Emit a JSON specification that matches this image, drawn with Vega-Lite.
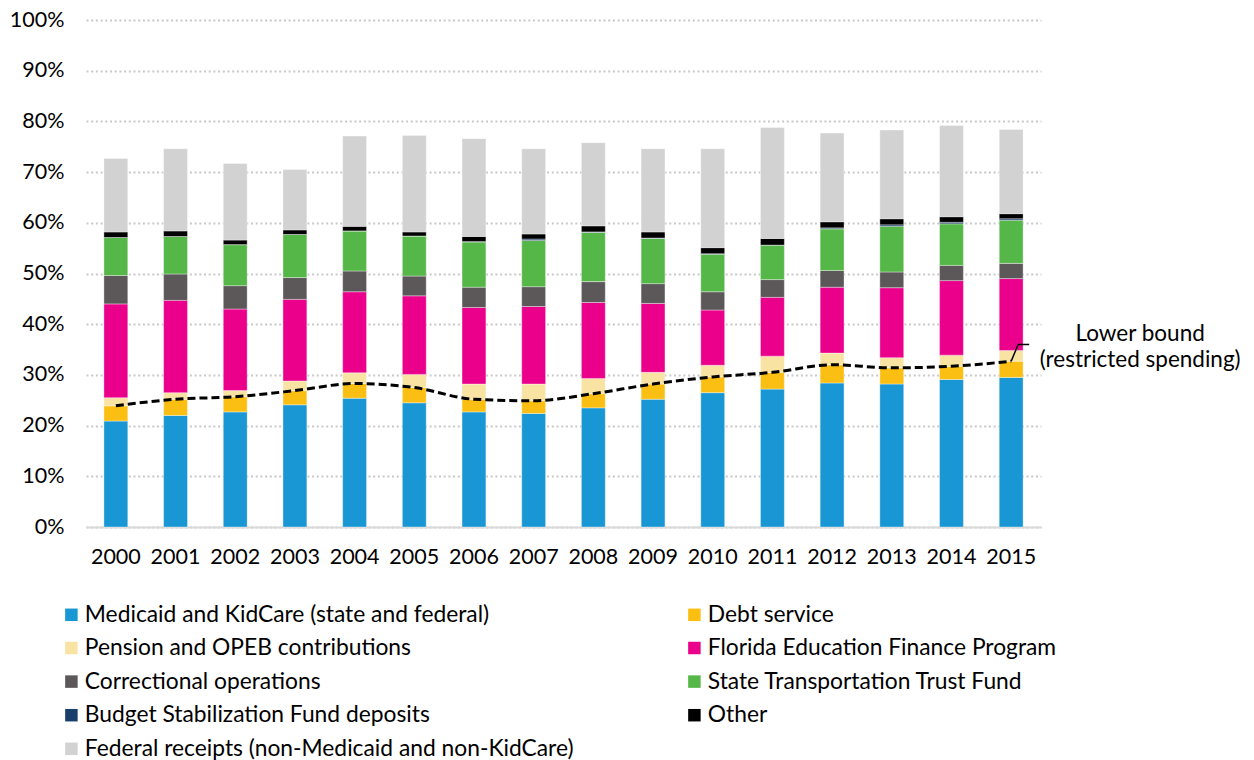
{
  "$schema": "https://vega.github.io/schema/vega-lite/v6.json",
  "autosize": "none",
  "width": 955,
  "height": 507,
  "padding": {"left": 86, "top": 20, "right": 213, "bottom": 233},
  "background": "#ffffff",
  "config": {
    "font": "Lato",
    "view": {"stroke": null},
    "axis": {"labelFont": "Lato", "labelFontSize": 21.5, "labelColor": "#000000", "ticks": false, "title": null},
    "legend": {"labelFont": "Lato", "labelFontSize": 22.8, "labelColor": "#000000"}
  },
  "datasets": {
    "spend": [
      {"year": "2000", "cat": "Medicaid and KidCare (state and federal)", "k": 1, "v": 20.9},
      {"year": "2000", "cat": "Debt service", "k": 2, "v": 3.0},
      {"year": "2000", "cat": "Pension and OPEB contributions", "k": 3, "v": 1.6},
      {"year": "2000", "cat": "Florida Education Finance Program", "k": 4, "v": 18.5},
      {"year": "2000", "cat": "Correctional operations", "k": 5, "v": 5.6},
      {"year": "2000", "cat": "State Transportation Trust Fund", "k": 6, "v": 7.5},
      {"year": "2000", "cat": "Budget Stabilization Fund deposits", "k": 7, "v": 0},
      {"year": "2000", "cat": "Other", "k": 8, "v": 1.1},
      {"year": "2000", "cat": "Federal receipts (non-Medicaid and non-KidCare)", "k": 9, "v": 14.5},
      {"year": "2001", "cat": "Medicaid and KidCare (state and federal)", "k": 1, "v": 22.0},
      {"year": "2001", "cat": "Debt service", "k": 2, "v": 3.2},
      {"year": "2001", "cat": "Pension and OPEB contributions", "k": 3, "v": 1.3},
      {"year": "2001", "cat": "Florida Education Finance Program", "k": 4, "v": 18.2},
      {"year": "2001", "cat": "Correctional operations", "k": 5, "v": 5.2},
      {"year": "2001", "cat": "State Transportation Trust Fund", "k": 6, "v": 7.4},
      {"year": "2001", "cat": "Budget Stabilization Fund deposits", "k": 7, "v": 0},
      {"year": "2001", "cat": "Other", "k": 8, "v": 1.1},
      {"year": "2001", "cat": "Federal receipts (non-Medicaid and non-KidCare)", "k": 9, "v": 16.2},
      {"year": "2002", "cat": "Medicaid and KidCare (state and federal)", "k": 1, "v": 22.7},
      {"year": "2002", "cat": "Debt service", "k": 2, "v": 3.0},
      {"year": "2002", "cat": "Pension and OPEB contributions", "k": 3, "v": 1.2},
      {"year": "2002", "cat": "Florida Education Finance Program", "k": 4, "v": 16.1},
      {"year": "2002", "cat": "Correctional operations", "k": 5, "v": 4.6},
      {"year": "2002", "cat": "State Transportation Trust Fund", "k": 6, "v": 8.1},
      {"year": "2002", "cat": "Budget Stabilization Fund deposits", "k": 7, "v": 0},
      {"year": "2002", "cat": "Other", "k": 8, "v": 0.9},
      {"year": "2002", "cat": "Federal receipts (non-Medicaid and non-KidCare)", "k": 9, "v": 15.1},
      {"year": "2003", "cat": "Medicaid and KidCare (state and federal)", "k": 1, "v": 24.1},
      {"year": "2003", "cat": "Debt service", "k": 2, "v": 2.8},
      {"year": "2003", "cat": "Pension and OPEB contributions", "k": 3, "v": 1.9},
      {"year": "2003", "cat": "Florida Education Finance Program", "k": 4, "v": 16.1},
      {"year": "2003", "cat": "Correctional operations", "k": 5, "v": 4.3},
      {"year": "2003", "cat": "State Transportation Trust Fund", "k": 6, "v": 8.5},
      {"year": "2003", "cat": "Budget Stabilization Fund deposits", "k": 7, "v": 0},
      {"year": "2003", "cat": "Other", "k": 8, "v": 0.9},
      {"year": "2003", "cat": "Federal receipts (non-Medicaid and non-KidCare)", "k": 9, "v": 11.9},
      {"year": "2004", "cat": "Medicaid and KidCare (state and federal)", "k": 1, "v": 25.4},
      {"year": "2004", "cat": "Debt service", "k": 2, "v": 2.9},
      {"year": "2004", "cat": "Pension and OPEB contributions", "k": 3, "v": 2.1},
      {"year": "2004", "cat": "Florida Education Finance Program", "k": 4, "v": 16.0},
      {"year": "2004", "cat": "Correctional operations", "k": 5, "v": 4.1},
      {"year": "2004", "cat": "State Transportation Trust Fund", "k": 6, "v": 7.9},
      {"year": "2004", "cat": "Budget Stabilization Fund deposits", "k": 7, "v": 0},
      {"year": "2004", "cat": "Other", "k": 8, "v": 0.9},
      {"year": "2004", "cat": "Federal receipts (non-Medicaid and non-KidCare)", "k": 9, "v": 17.8},
      {"year": "2005", "cat": "Medicaid and KidCare (state and federal)", "k": 1, "v": 24.5},
      {"year": "2005", "cat": "Debt service", "k": 2, "v": 3.0},
      {"year": "2005", "cat": "Pension and OPEB contributions", "k": 3, "v": 2.6},
      {"year": "2005", "cat": "Florida Education Finance Program", "k": 4, "v": 15.5},
      {"year": "2005", "cat": "Correctional operations", "k": 5, "v": 3.9},
      {"year": "2005", "cat": "State Transportation Trust Fund", "k": 6, "v": 7.9},
      {"year": "2005", "cat": "Budget Stabilization Fund deposits", "k": 7, "v": 0},
      {"year": "2005", "cat": "Other", "k": 8, "v": 0.8},
      {"year": "2005", "cat": "Federal receipts (non-Medicaid and non-KidCare)", "k": 9, "v": 19.0},
      {"year": "2006", "cat": "Medicaid and KidCare (state and federal)", "k": 1, "v": 22.7},
      {"year": "2006", "cat": "Debt service", "k": 2, "v": 2.5},
      {"year": "2006", "cat": "Pension and OPEB contributions", "k": 3, "v": 3.0},
      {"year": "2006", "cat": "Florida Education Finance Program", "k": 4, "v": 15.1},
      {"year": "2006", "cat": "Correctional operations", "k": 5, "v": 4.0},
      {"year": "2006", "cat": "State Transportation Trust Fund", "k": 6, "v": 8.9},
      {"year": "2006", "cat": "Budget Stabilization Fund deposits", "k": 7, "v": 0.1},
      {"year": "2006", "cat": "Other", "k": 8, "v": 1.0},
      {"year": "2006", "cat": "Federal receipts (non-Medicaid and non-KidCare)", "k": 9, "v": 19.3},
      {"year": "2007", "cat": "Medicaid and KidCare (state and federal)", "k": 1, "v": 22.4},
      {"year": "2007", "cat": "Debt service", "k": 2, "v": 2.5},
      {"year": "2007", "cat": "Pension and OPEB contributions", "k": 3, "v": 3.3},
      {"year": "2007", "cat": "Florida Education Finance Program", "k": 4, "v": 15.3},
      {"year": "2007", "cat": "Correctional operations", "k": 5, "v": 3.9},
      {"year": "2007", "cat": "State Transportation Trust Fund", "k": 6, "v": 9.1},
      {"year": "2007", "cat": "Budget Stabilization Fund deposits", "k": 7, "v": 0.3},
      {"year": "2007", "cat": "Other", "k": 8, "v": 1.0},
      {"year": "2007", "cat": "Federal receipts (non-Medicaid and non-KidCare)", "k": 9, "v": 16.8},
      {"year": "2008", "cat": "Medicaid and KidCare (state and federal)", "k": 1, "v": 23.5},
      {"year": "2008", "cat": "Debt service", "k": 2, "v": 2.8},
      {"year": "2008", "cat": "Pension and OPEB contributions", "k": 3, "v": 3.0},
      {"year": "2008", "cat": "Florida Education Finance Program", "k": 4, "v": 15.0},
      {"year": "2008", "cat": "Correctional operations", "k": 5, "v": 4.1},
      {"year": "2008", "cat": "State Transportation Trust Fund", "k": 6, "v": 9.7},
      {"year": "2008", "cat": "Budget Stabilization Fund deposits", "k": 7, "v": 0.1},
      {"year": "2008", "cat": "Other", "k": 8, "v": 1.2},
      {"year": "2008", "cat": "Federal receipts (non-Medicaid and non-KidCare)", "k": 9, "v": 16.4},
      {"year": "2009", "cat": "Medicaid and KidCare (state and federal)", "k": 1, "v": 25.2},
      {"year": "2009", "cat": "Debt service", "k": 2, "v": 3.0},
      {"year": "2009", "cat": "Pension and OPEB contributions", "k": 3, "v": 2.3},
      {"year": "2009", "cat": "Florida Education Finance Program", "k": 4, "v": 13.6},
      {"year": "2009", "cat": "Correctional operations", "k": 5, "v": 3.9},
      {"year": "2009", "cat": "State Transportation Trust Fund", "k": 6, "v": 8.9},
      {"year": "2009", "cat": "Budget Stabilization Fund deposits", "k": 7, "v": 0.1},
      {"year": "2009", "cat": "Other", "k": 8, "v": 1.2},
      {"year": "2009", "cat": "Federal receipts (non-Medicaid and non-KidCare)", "k": 9, "v": 16.4},
      {"year": "2010", "cat": "Medicaid and KidCare (state and federal)", "k": 1, "v": 26.5},
      {"year": "2010", "cat": "Debt service", "k": 2, "v": 3.1},
      {"year": "2010", "cat": "Pension and OPEB contributions", "k": 3, "v": 2.3},
      {"year": "2010", "cat": "Florida Education Finance Program", "k": 4, "v": 10.9},
      {"year": "2010", "cat": "Correctional operations", "k": 5, "v": 3.6},
      {"year": "2010", "cat": "State Transportation Trust Fund", "k": 6, "v": 7.4},
      {"year": "2010", "cat": "Budget Stabilization Fund deposits", "k": 7, "v": 0.1},
      {"year": "2010", "cat": "Other", "k": 8, "v": 1.2},
      {"year": "2010", "cat": "Federal receipts (non-Medicaid and non-KidCare)", "k": 9, "v": 19.5},
      {"year": "2011", "cat": "Medicaid and KidCare (state and federal)", "k": 1, "v": 27.2},
      {"year": "2011", "cat": "Debt service", "k": 2, "v": 3.3},
      {"year": "2011", "cat": "Pension and OPEB contributions", "k": 3, "v": 3.2},
      {"year": "2011", "cat": "Florida Education Finance Program", "k": 4, "v": 11.6},
      {"year": "2011", "cat": "Correctional operations", "k": 5, "v": 3.5},
      {"year": "2011", "cat": "State Transportation Trust Fund", "k": 6, "v": 6.8},
      {"year": "2011", "cat": "Budget Stabilization Fund deposits", "k": 7, "v": 0},
      {"year": "2011", "cat": "Other", "k": 8, "v": 1.3},
      {"year": "2011", "cat": "Federal receipts (non-Medicaid and non-KidCare)", "k": 9, "v": 21.9},
      {"year": "2012", "cat": "Medicaid and KidCare (state and federal)", "k": 1, "v": 28.4},
      {"year": "2012", "cat": "Debt service", "k": 2, "v": 3.6},
      {"year": "2012", "cat": "Pension and OPEB contributions", "k": 3, "v": 2.3},
      {"year": "2012", "cat": "Florida Education Finance Program", "k": 4, "v": 13.0},
      {"year": "2012", "cat": "Correctional operations", "k": 5, "v": 3.3},
      {"year": "2012", "cat": "State Transportation Trust Fund", "k": 6, "v": 8.2},
      {"year": "2012", "cat": "Budget Stabilization Fund deposits", "k": 7, "v": 0.2},
      {"year": "2012", "cat": "Other", "k": 8, "v": 1.2},
      {"year": "2012", "cat": "Federal receipts (non-Medicaid and non-KidCare)", "k": 9, "v": 17.5},
      {"year": "2013", "cat": "Medicaid and KidCare (state and federal)", "k": 1, "v": 28.2},
      {"year": "2013", "cat": "Debt service", "k": 2, "v": 3.2},
      {"year": "2013", "cat": "Pension and OPEB contributions", "k": 3, "v": 2.0},
      {"year": "2013", "cat": "Florida Education Finance Program", "k": 4, "v": 13.8},
      {"year": "2013", "cat": "Correctional operations", "k": 5, "v": 3.1},
      {"year": "2013", "cat": "State Transportation Trust Fund", "k": 6, "v": 9.0},
      {"year": "2013", "cat": "Budget Stabilization Fund deposits", "k": 7, "v": 0.3},
      {"year": "2013", "cat": "Other", "k": 8, "v": 1.2},
      {"year": "2013", "cat": "Federal receipts (non-Medicaid and non-KidCare)", "k": 9, "v": 17.5},
      {"year": "2014", "cat": "Medicaid and KidCare (state and federal)", "k": 1, "v": 29.1},
      {"year": "2014", "cat": "Debt service", "k": 2, "v": 2.6},
      {"year": "2014", "cat": "Pension and OPEB contributions", "k": 3, "v": 2.2},
      {"year": "2014", "cat": "Florida Education Finance Program", "k": 4, "v": 14.7},
      {"year": "2014", "cat": "Correctional operations", "k": 5, "v": 3.0},
      {"year": "2014", "cat": "State Transportation Trust Fund", "k": 6, "v": 8.2},
      {"year": "2014", "cat": "Budget Stabilization Fund deposits", "k": 7, "v": 0.3},
      {"year": "2014", "cat": "Other", "k": 8, "v": 1.1},
      {"year": "2014", "cat": "Federal receipts (non-Medicaid and non-KidCare)", "k": 9, "v": 18.0},
      {"year": "2015", "cat": "Medicaid and KidCare (state and federal)", "k": 1, "v": 29.5},
      {"year": "2015", "cat": "Debt service", "k": 2, "v": 3.2},
      {"year": "2015", "cat": "Pension and OPEB contributions", "k": 3, "v": 2.1},
      {"year": "2015", "cat": "Florida Education Finance Program", "k": 4, "v": 14.2},
      {"year": "2015", "cat": "Correctional operations", "k": 5, "v": 3.0},
      {"year": "2015", "cat": "State Transportation Trust Fund", "k": 6, "v": 8.5},
      {"year": "2015", "cat": "Budget Stabilization Fund deposits", "k": 7, "v": 0.3},
      {"year": "2015", "cat": "Other", "k": 8, "v": 1.0},
      {"year": "2015", "cat": "Federal receipts (non-Medicaid and non-KidCare)", "k": 9, "v": 16.6}
    ],
    "bound": [
      {"year": "2000", "lb": 23.9},
      {"year": "2001", "lb": 25.2},
      {"year": "2002", "lb": 25.7},
      {"year": "2003", "lb": 26.9},
      {"year": "2004", "lb": 28.3},
      {"year": "2005", "lb": 27.5},
      {"year": "2006", "lb": 25.2},
      {"year": "2007", "lb": 24.9},
      {"year": "2008", "lb": 26.3},
      {"year": "2009", "lb": 28.2},
      {"year": "2010", "lb": 29.6},
      {"year": "2011", "lb": 30.5},
      {"year": "2012", "lb": 32.0},
      {"year": "2013", "lb": 31.4},
      {"year": "2014", "lb": 31.7},
      {"year": "2015", "lb": 32.7}
    ],
    "note": [
      {"year": "2015", "from": 32.7, "to": 36.0, "label": ["Lower bound", "(restricted spending)"]}
    ]
  },
  "layer": [
    {
      "data": {"name": "spend"},
      "mark": {"type": "bar", "stroke": "#ffffff", "strokeWidth": 0.6, "strokeOpacity": 0.6},
      "encoding": {
        "x": {
          "field": "year", "type": "nominal", "title": null,
          "scale": {"paddingInner": 0.6, "paddingOuter": 0.3},
          "axis": {"labelAngle": 0, "labelPadding": 19, "domainColor": "#d9d9d9", "domainWidth": 2, "grid": false}
        },
        "y": {
          "field": "v", "type": "quantitative", "aggregate": "sum", "stack": "zero", "title": null,
          "scale": {"domain": [0, 100], "nice": false},
          "axis": {
            "values": [0, 10, 20, 30, 40, 50, 60, 70, 80, 90, 100],
            "labelExpr": "datum.value + '%'",
            "domain": false, "labelPadding": 22,
            "grid": true, "gridColor": "#c8c8c8", "gridDash": [2, 2.7], "gridWidth": 2
          }
        },
        "color": {
          "field": "cat", "type": "nominal", "title": null,
          "scale": {
            "domain": [
              "Medicaid and KidCare (state and federal)", "Debt service",
              "Pension and OPEB contributions", "Florida Education Finance Program",
              "Correctional operations", "State Transportation Trust Fund",
              "Budget Stabilization Fund deposits", "Other",
              "Federal receipts (non-Medicaid and non-KidCare)"
            ],
            "range": ["#1996d4", "#fbbf14", "#f8e3a3", "#ea008b", "#5c5759", "#55b748", "#1b3f6b", "#000000", "#d2d2d2"]
          },
          "legend": {
            "orient": "none", "legendX": -26, "legendY": 583, "direction": "horizontal",
            "columns": 2, "columnPadding": 109, "rowPadding": 9.6,
            "symbolType": "square", "symbolSize": 156, "symbolStrokeWidth": 0,
            "labelOffset": 2, "labelLimit": 700
          }
        },
        "order": {"field": "k", "type": "quantitative"}
      }
    },
    {
      "data": {"name": "bound"},
      "mark": {"type": "line", "color": "#000000", "strokeWidth": 3, "strokeDash": [8, 4], "interpolate": "monotone"},
      "encoding": {
        "x": {"field": "year", "type": "nominal"},
        "y": {"field": "lb", "type": "quantitative"}
      }
    },
    {
      "data": {"name": "note"},
      "mark": {"type": "rule", "color": "#000000", "strokeWidth": 1.5, "x2Offset": 7},
      "encoding": {
        "x": {"field": "year", "type": "nominal"},
        "x2": {"field": "year"},
        "y": {"field": "from", "type": "quantitative"},
        "y2": {"field": "to"}
      }
    },
    {
      "data": {"name": "note"},
      "mark": {"type": "rule", "color": "#000000", "strokeWidth": 1.5, "xOffset": 7, "x2Offset": 18},
      "encoding": {
        "x": {"field": "year", "type": "nominal"},
        "x2": {"field": "year"},
        "y": {"field": "to", "type": "quantitative"}
      }
    },
    {
      "data": {"name": "note"},
      "mark": {"type": "text", "fontSize": 22.5, "font": "Lato", "color": "#000000", "align": "center", "baseline": "middle", "dx": 129, "dy": -10, "lineHeight": 26},
      "encoding": {
        "x": {"field": "year", "type": "nominal"},
        "y": {"field": "to", "type": "quantitative"},
        "text": {"field": "label"}
      }
    }
  ]
}
